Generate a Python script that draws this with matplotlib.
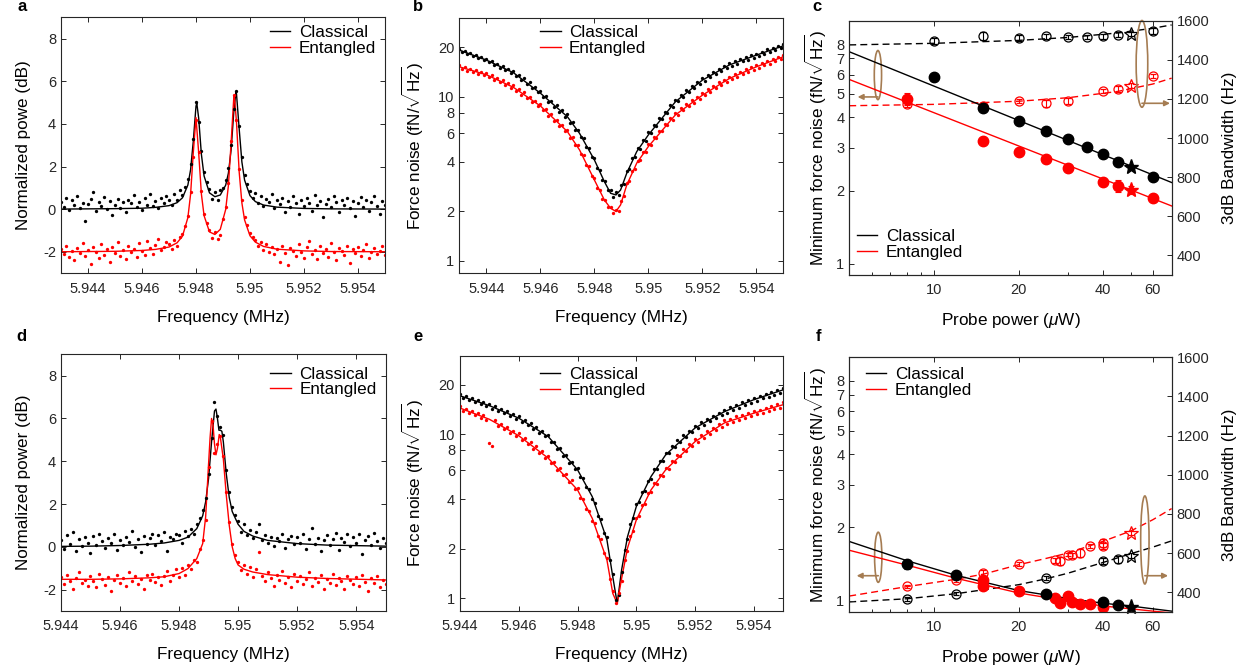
import numpy as np
import matplotlib
matplotlib.use('Agg')
import matplotlib.pyplot as plt
from matplotlib.patches import Ellipse
from matplotlib.ticker import FixedLocator, NullFormatter, NullLocator, LogLocator

plt.rcParams['font.family'] = ['Liberation Sans', 'DejaVu Sans']
plt.rcParams['mathtext.fontset'] = 'custom'
plt.rcParams['mathtext.rm'] = 'Liberation Sans'
plt.rcParams['mathtext.it'] = 'Liberation Sans:italic'
plt.rcParams['mathtext.bf'] = 'Liberation Sans:bold'

GRAY = '#262626'
BROWN = '#a57c52'

# ---------------- panel a : power spectra (two peaks) ----------------
a_line_f_cls = [5.943, 5.944, 5.945, 5.946, 5.9465, 5.947, 5.9473, 5.9475, 5.9477, 5.9478, 5.9479,
                5.948, 5.94803, 5.9481, 5.9482, 5.9483, 5.9485, 5.9487, 5.9489, 5.9491, 5.9492,
                5.9493, 5.9494, 5.94948, 5.9495, 5.9496, 5.9497, 5.9498, 5.95, 5.9502, 5.9505,
                5.951, 5.952, 5.953, 5.955]
a_line_cls = [0.01, 0.02, 0.03, 0.05, 0.09, 0.17, 0.31, 0.54, 1.14, 1.85, 3.18, 4.83, 4.98, 4.27,
              2.58, 1.56, 0.77, 0.59, 0.67, 1.13, 1.69, 2.77, 4.56, 5.50, 5.42, 3.77, 2.22, 1.37,
              0.64, 0.36, 0.20, 0.10, 0.04, 0.02, 0.01]
a_line_f_ent = [5.943, 5.944, 5.945, 5.946, 5.9465, 5.947, 5.9473, 5.9475, 5.9477, 5.9478, 5.9479,
                5.948, 5.9481, 5.9482, 5.9483, 5.9485, 5.9487, 5.9489, 5.9491, 5.9492, 5.9493,
                5.9494, 5.94942, 5.9495, 5.9496, 5.9497, 5.9498, 5.95, 5.9502, 5.9505, 5.951,
                5.952, 5.953, 5.955]
a_line_ent = [-1.99, -1.98, -1.97, -1.93, -1.88, -1.77, -1.57, -1.26, -0.39, 0.70, 2.65, 4.30,
              2.65, 0.72, -0.30, -1.06, -1.18, -0.94, -0.01, 1.10, 3.09, 5.24, 5.34, 4.09, 1.75,
              0.30, -0.50, -1.24, -1.54, -1.74, -1.87, -1.95, -1.98, -1.99]
a_pts_cls = [0.35, 0.12, 0.55, -0.05, 0.42, 0.18, 0.62, 0.05, 0.30, -0.55,
             0.25, 0.48, 0.80, -0.10, 0.32, 0.15, 0.58, 0.02, 0.40, -0.25,
             0.22, 0.50, 0.08, 0.36, -0.15, 0.45, 0.28, 0.65, 0.10, 0.33,
             -0.05, 0.52, 0.20, 0.70, 0.15, 0.38, 0.05, 0.55, 0.30, 0.60,
             0.45, 0.20, 0.70, 0.42, 0.90, 0.65, 1.05, 1.40, 2.10, 3.30,
             5.05, 4.10, 2.75, 1.75, 1.30, 0.95, 0.50, 0.80, 0.45, 0.90,
             1.00, 1.35, 1.95, 3.00, 4.70, 5.55, 3.90, 2.45, 1.60, 1.20,
             0.85, 0.55, 0.75, 0.30, 0.62, 0.15, 0.50, 0.35, 0.70, 0.05,
             0.42, 0.25, 0.55, -0.12, 0.38, 0.10, 0.60, 0.28, -0.20, 0.45,
             0.15, 0.52, 0.30, -0.08, 0.68, 0.20, 0.40, -0.35, 0.25, 0.50,
             0.10, 0.62, 0.32, -0.15, 0.45, 0.18, 0.55, 0.05, 0.38, -0.30,
             0.28, 0.58, 0.12, 0.42, -0.10, 0.35, 0.60, 0.15, -0.20, 0.40, 0.22]
a_pts_ent = [-1.85, -2.10, -1.70, -2.25, -1.95, -2.40, -1.80, -2.05, -1.60, -2.20,
             -1.90, -2.55, -1.75, -2.00, -2.30, -1.65, -2.15, -1.88, -2.45, -1.78,
             -2.05, -1.55, -2.20, -1.92, -2.35, -1.70, -2.02, -1.85, -2.25, -1.60,
             -1.95, -2.15, -1.50, -1.82, -2.10, -1.68, -1.40, -1.90, -1.75, -1.55,
             -1.62, -1.85, -1.45, -1.70, -1.30, -1.15, -0.80, -0.30, 0.80, 2.45,
             4.20, 2.70, 0.85, -0.20, -0.65, -0.95, -1.35, -1.05, -1.40, -1.20,
             -0.45, 0.10, 1.25, 3.20, 5.35, 4.20, 1.90, 0.45, -0.35, -0.75,
             -1.10, -1.30, -1.45, -1.70, -1.55, -1.90, -1.65, -2.00, -1.75, -2.10,
             -1.85, -2.45, -1.70, -2.05, -2.60, -1.80, -1.95, -2.20, -1.65, -2.00,
             -2.30, -1.75, -1.50, -2.10, -1.90, -2.35, -1.70, -2.05, -1.85, -2.25,
             -1.60, -2.00, -2.40, -1.80, -1.95, -2.15, -1.72, -2.50, -1.88, -2.05,
             -1.75, -2.20, -1.90, -1.65, -2.30, -2.00, -1.80, -2.10, -1.95, -1.70, -2.15]

# ---------------- panel b : force noise spectra ----------------
b_line_f = [5.943, 5.944, 5.945, 5.946, 5.947, 5.94745, 5.948, 5.94837, 5.9486, 5.9488, 5.94897,
            5.9492, 5.94957, 5.95, 5.951, 5.952, 5.953, 5.954, 5.955]
b_line_cls = [19.2, 16.7, 14.0, 10.5, 7.55, 5.98, 4.12, 3.04, 2.58, 2.52, 2.7, 3.42, 4.63, 5.85,
              9.3, 12.6, 15.6, 17.9, 20.4]
b_line_ent = [15.2, 13.6, 11.4, 8.78, 6.13, 4.74, 3.11, 2.35, 2.09, 2.0, 2.19, 2.90, 3.94, 4.97,
              7.74, 10.2, 12.9, 15.2, 17.5]
b_pts_cls = [19.6, 18.7, 19.0, 18.1, 18.5, 17.6, 18.0, 17.2, 17.5, 16.6,
             17.0, 16.2, 16.5, 15.6, 15.9, 15.0, 15.4, 14.6, 14.8, 14.0,
             14.3, 13.4, 13.6, 12.6, 12.9, 12.0, 12.2, 11.3, 11.5, 10.6,
             10.8, 9.9, 10.1, 9.25, 9.45, 8.65, 8.85, 8.1, 8.25, 7.55,
             7.8, 6.95, 7.0, 6.3, 6.3, 5.7, 5.6, 4.95, 4.88, 4.3,
             4.25, 3.7, 3.6, 3.12, 3.08, 2.7, 2.7, 2.45, 2.62, 2.52,
             2.88, 2.95, 3.52, 3.65, 4.22, 4.28, 4.85, 4.82, 5.42, 5.38,
             6.05, 5.97, 6.7, 6.65, 7.42, 7.28, 8.1, 7.95, 8.85, 8.7,
             9.6, 9.4, 10.3, 10.0, 10.9, 10.7, 11.6, 11.3, 12.2, 12.0,
             12.9, 12.5, 13.5, 13.1, 14.1, 13.7, 14.8, 14.3, 15.4, 14.9,
             16.0, 15.4, 16.5, 15.9, 16.9, 16.4, 17.4, 16.8, 17.9, 17.3,
             18.3, 17.8, 18.8, 18.3, 19.4, 18.8, 19.9, 19.3, 20.4, 19.8, 20.8]
b_pts_ent = [15.5, 14.8, 15.2, 14.4, 14.8, 14.1, 14.5, 13.8, 14.2, 13.5,
             13.9, 13.1, 13.5, 12.6, 13.0, 12.2, 12.6, 11.7, 12.1, 11.3,
             11.7, 10.8, 11.1, 10.2, 10.6, 9.75, 9.95, 9.25, 9.45, 8.75,
             9.0, 8.25, 8.4, 7.65, 7.8, 7.1, 7.25, 6.6, 6.75, 6.15,
             6.3, 5.6, 5.65, 5.05, 5.05, 4.48, 4.42, 3.85, 3.78, 3.28,
             3.2, 2.78, 2.7, 2.37, 2.36, 2.12, 2.14, 1.97, 2.05, 2.02,
             2.32, 2.48, 2.98, 3.06, 3.55, 3.62, 4.08, 4.1, 4.6, 4.58,
             5.12, 5.07, 5.65, 5.6, 6.22, 6.14, 6.78, 6.68, 7.37, 7.22,
             7.95, 7.78, 8.48, 8.25, 9.0, 8.72, 9.48, 9.2, 10.0, 9.68,
             10.5, 10.2, 11.1, 10.7, 11.6, 11.3, 12.2, 11.8, 12.7, 12.3,
             13.2, 12.8, 13.7, 13.2, 14.2, 13.7, 14.7, 14.1, 15.2, 14.6,
             15.6, 15.0, 16.1, 15.5, 16.5, 15.9, 17.0, 16.4, 17.4, 16.9, 17.9]

# ---------------- panel d : power spectra (single peak) ----------------
d_line_f_cls = [5.944, 5.945, 5.946, 5.947, 5.9475, 5.948, 5.9483, 5.9486, 5.9488, 5.9489, 5.949,
                5.9491, 5.9492, 5.94925, 5.9493, 5.94935, 5.9494, 5.94945, 5.9495, 5.9496, 5.9497,
                5.9498, 5.95, 5.9502, 5.9505, 5.951, 5.952, 5.953, 5.955]
d_line_cls = [0.02, 0.03, 0.06, 0.12, 0.18, 0.30, 0.45, 0.85, 1.45, 2.1, 3.2, 4.9, 6.35, 6.44, 6.0,
              5.45, 5.45, 5.4, 4.9, 3.4, 2.3, 1.65, 1.05, 0.72, 0.5, 0.3, 0.15, 0.08, 0.03]
d_line_f_ent = [5.944, 5.945, 5.946, 5.947, 5.9475, 5.948, 5.9483, 5.9486, 5.9488, 5.9489, 5.949,
                5.94905, 5.9491, 5.94915, 5.9492, 5.94925, 5.9493, 5.94936, 5.9494, 5.9495, 5.9496,
                5.9497, 5.9498, 5.9499, 5.95, 5.9502, 5.9505, 5.951, 5.952, 5.953, 5.955]
d_line_ent = [-1.52, -1.52, -1.50, -1.45, -1.40, -1.25, -1.02, -0.55, 0.15, 1.4, 3.9, 5.1, 6.0, 5.7,
              4.8, 4.3, 4.6, 5.25, 5.1, 4.1, 2.4, 1.0, 0.0, -0.55, -0.85, -1.05, -1.18, -1.3,
              -1.42, -1.48, -1.55]
d_pts_cls = [0.30, -0.10, 0.55, 0.15, 0.70, -0.20, 0.35, 0.05, 0.45, 0.20,
             -0.30, 0.50, 0.10, 0.62, 0.25, -0.05, 0.40, 0.18, 0.58, -0.15,
             0.32, 0.08, 0.48, 0.22, 0.75, 0.00, 0.38, -0.25, 0.52, 0.15,
             0.42, 0.60, 0.10, 0.55, 0.28, 0.70, -0.20, 0.48, 0.35, 0.62,
             0.55, 0.20, 0.72, 0.50, 0.85, 0.60, 1.05, 1.35, 1.70, 2.30,
             3.40, 5.10, 6.75, 6.10, 5.60, 5.25, 3.60, 2.55, 1.85, 1.50,
             1.20, 0.70, 1.05, 0.55, 0.80, 0.40, 0.70, 1.05, 0.30, 0.55,
             0.20, 0.48, 0.05, 0.40, 0.25, 0.58, -0.05, 0.35, 0.50, 0.12,
             0.45, 0.20, 0.62, -0.10, 0.38, 0.90, 0.15, 0.42, -0.20, 0.30,
             0.55, 0.08, 0.35, 0.65, -0.15, 0.40, 0.22, 0.58, 0.02, 0.45,
             0.18, 0.60, -0.35, 0.30, 0.50, 0.10, 0.65, 0.25, -0.05, 0.40, 0.20]
d_pts_ent = [-1.40, -1.75, -1.30, -1.60, -1.95, -1.45, -1.20, -1.70, -1.55, -1.85,
             -1.35, -1.62, -1.90, -1.25, -1.50, -1.78, -1.40, -2.05, -1.55, -1.30,
             -1.68, -1.45, -1.85, -1.20, -1.58, -1.38, -1.72, -1.50, -1.95, -1.32,
             -1.55, -1.25, -1.65, -1.40, -1.80, -1.35, -1.15, -1.60, -1.30, -1.05,
             -1.40, -1.00, -1.30, -0.85, -1.05, -0.60, -0.70, -0.10, 0.30, 1.25,
             3.75, 5.90, 4.40, 4.80, 5.20, 4.25, 2.55, 1.15, 0.15, -0.40,
             -0.70, -1.10, -0.85, -1.25, -0.95, -1.40, -1.05, -0.25, -1.35, -1.60,
             -1.20, -1.45, -1.85, -1.30, -1.55, -1.15, -1.70, -1.40, -1.90, -1.25,
             -1.60, -1.35, -1.75, -1.50, -1.20, -1.85, -1.45, -1.65, -1.30, -1.95,
             -1.50, -1.70, -1.25, -1.80, -1.45, -1.60, -1.95, -1.35, -1.55, -1.75,
             -1.40, -1.85, -1.30, -1.65, -2.05, -1.45, -1.70, -1.35, -1.90, -1.55, -1.75]

# ---------------- panel e : force noise spectra ----------------
e_line_f = [5.944, 5.945, 5.946, 5.947, 5.948, 5.9485, 5.949, 5.9492, 5.94935, 5.9495, 5.9497,
            5.95, 5.9505, 5.951, 5.952, 5.953, 5.954, 5.955]
e_line_cls = [17.1, 14.9, 12.5, 9.66, 6.06, 4.16, 2.27, 1.35, 0.93, 1.49, 2.37, 3.62, 5.51, 7.48,
              10.9, 13.7, 16.2, 18.6]
e_line_ent = [14.4, 12.3, 9.77, 7.14, 4.57, 3.07, 1.71, 1.07, 0.93, 1.32, 2.02, 3.0, 4.57, 6.06,
              9.0, 11.7, 13.4, 15.1]
e_pts_cls = [17.5, 16.6, 17.0, 16.1, 16.6, 15.7, 16.1, 15.2, 15.7, 14.8,
             15.2, 14.3, 14.8, 13.8, 14.2, 13.4, 13.8, 12.9, 13.2, 12.4,
             12.8, 11.9, 12.2, 11.3, 11.6, 10.7, 11.1, 10.2, 10.5, 9.7,
             9.9, 8.95, 9.0, 8.1, 8.2, 7.4, 7.45, 6.7, 6.75, 6.12,
             6.25, 5.5, 5.4, 4.75, 4.65, 4.05, 3.82, 3.18, 3.02, 2.5,
             2.35, 1.7, 1.4, 0.98, 1.05, 1.45, 1.98, 2.3, 2.85, 3.1,
             3.75, 3.85, 4.45, 4.52, 5.2, 5.35, 6.1, 6.12, 6.9, 6.9,
             7.7, 7.62, 8.45, 8.3, 9.15, 9.0, 9.85, 9.6, 10.5, 10.3,
             11.2, 10.9, 11.8, 11.4, 12.3, 12.0, 12.9, 12.5, 13.5, 13.0,
             14.1, 13.5, 14.6, 14.0, 15.1, 14.5, 15.6, 15.0, 16.1, 15.5,
             16.6, 16.0, 17.1, 16.5, 17.6, 16.9, 18.1, 17.4, 18.6, 17.9, 19.1]
e_pts_ent = [14.8, 13.9, 14.3, 13.5, 13.9, 13.1, 13.4, 12.6, 13.0, 12.2,
             8.8, 8.4, 12.1, 11.2, 11.5, 10.7, 11.0, 10.2, 10.5, 9.7,
             10.1, 9.2, 9.5, 8.7, 8.95, 8.15, 8.4, 7.65, 7.9, 7.15,
             7.35, 6.62, 6.8, 6.08, 6.25, 5.6, 5.72, 5.12, 5.22, 4.65,
             4.72, 4.08, 4.02, 3.48, 3.42, 2.96, 2.86, 2.41, 2.3, 1.89,
             1.76, 1.31, 1.1, 0.93, 1.08, 1.27, 1.7, 1.95, 2.4, 2.56,
             3.1, 3.18, 3.72, 3.77, 4.36, 4.42, 5.0, 4.98, 5.62, 5.56,
             6.25, 6.14, 6.86, 6.72, 7.48, 7.3, 8.1, 7.88, 8.7, 8.42,
             9.28, 8.96, 9.85, 9.5, 10.4, 10.0, 10.95, 10.55, 11.55, 11.05,
             12.1, 11.5, 12.4, 11.8, 12.8, 12.1, 13.1, 12.5, 13.4, 12.8,
             13.8, 13.2, 14.1, 13.5, 14.5, 13.8, 14.8, 14.2, 15.2, 14.5, 15.6]

# ---------------- panel c : min force noise and bandwidth vs power ----------------
c_p_cls = [10, 15, 20, 25, 30, 35, 40, 45, 60]
c_noise_cls = [5.85, 4.37, 3.86, 3.53, 3.25, 3.01, 2.84, 2.63, 2.28]
c_noise_cls_err = [0.12, 0.08, 0.05, 0.05, 0.05, 0.04, 0.04, 0.04, 0.04]
c_p_ent = [8, 15, 20, 25, 30, 40, 45, 60]
c_noise_ent = [4.77, 3.19, 2.89, 2.71, 2.48, 2.18, 2.09, 1.86]
c_noise_ent_err = [0.25, 0.05, 0.05, 0.05, 0.05, 0.05, 0.12, 0.07]
c_star_p = 50
c_star_noise = [2.51, 2.01]
c_star_bw = [1532, 1268]
c_bw_cls = [1498, 1520, 1513, 1520, 1515, 1517, 1520, 1528, 1546]
c_bw_cls_err = [15, 20, 15, 12, 10, 12, 12, 12, 15]
c_bw_ent = [1175, 1165, 1190, 1178, 1191, 1240, 1249, 1317]
c_bw_ent_err = [15, 15, 12, 18, 15, 10, 15, 12]
c_fit_p = [5, 70]
c_fit_cls = [7.45, 2.16]
c_fit_ent = [5.73, 1.73]
c_bwfit_p = [5, 10, 20, 30, 45, 60, 70]
c_bwfit_cls = [1476, 1484, 1499, 1514, 1537, 1561, 1578]
c_bwfit_ent = [1165, 1172, 1188, 1206, 1238, 1276, 1306]

# ---------------- panel f ----------------
f_p_cls = [8, 12, 25, 40, 45]
f_noise_cls = [1.41, 1.27, 1.06, 0.99, 0.96]
f_noise_cls_err = [0.06, 0.04, 0.02, 0.02, 0.02]
f_p_ent = [15, 15, 20, 27, 28, 30, 31, 33, 36, 40]
f_noise_ent = [1.22, 1.15, 1.09, 1.02, 0.98, 1.04, 0.99, 0.97, 0.965, 0.94]
f_noise_ent_err = [0.04, 0.03, 0.03, 0.02, 0.02, 0.02, 0.02, 0.02, 0.02, 0.02]
f_star_p = 50
f_star_noise = 0.945
f_star_bw = [587, 703]
f_bw_p_cls = [8, 12, 25, 40, 45]
f_bw_cls = [366, 392, 472, 558, 567]
f_bw_cls_err = [10, 8, 10, 15, 18]
f_bw_p_ent = [8, 12, 15, 20, 27, 28, 30, 31, 33, 36, 40, 40]
f_bw_ent = [431, 461, 499, 545, 562, 558, 592, 589, 601, 638, 652, 635]
f_bw_ent_err = [8, 8, 15, 10, 15, 20, 8, 12, 20, 10, 20, 15]
f_fit_p = [5, 8, 12, 20, 30, 40, 50, 60, 70]
f_fit_cls = [1.75, 1.46, 1.27, 1.10, 1.02, 0.975, 0.95, 0.925, 0.905]
f_fit_ent = [1.61, 1.40, 1.235, 1.075, 0.995, 0.95, 0.925, 0.905, 0.89]
f_bwfit_p_cls = [5, 8, 12, 20, 25, 30, 40, 50, 60, 70]
f_bwfit_cls = [350, 366, 392, 438, 468, 497, 552, 596, 630, 662]
f_bwfit_p_ent = [5, 8, 12, 15, 20, 25, 30, 40, 50, 60, 70]
f_bwfit_ent = [380, 428, 466, 492, 540, 572, 600, 660, 712, 770, 827]

freq_abc = 5.943 + 0.0001 * np.arange(len(a_pts_cls))
freq_de = 5.944 + 0.0001 * np.arange(len(d_pts_cls))

freq_ticks = [5.944, 5.946, 5.948, 5.95, 5.952, 5.954]
freq_labels = ['5.944', '5.946', '5.948', '5.95', '5.952', '5.954']

fig = plt.figure(figsize=(12.52, 6.70), dpi=100)


def style(ax):
    ax.tick_params(which='both', direction='in', colors=GRAY, labelsize=10.5, width=0.7)
    ax.tick_params(which='major', length=3.5)
    ax.tick_params(which='minor', length=2)
    for s in ax.spines.values():
        s.set_color(GRAY)
        s.set_linewidth(0.8)


def add_legend(ax, x, y):
    ax.legend(['Classical', 'Entangled'], loc='upper left', bbox_to_anchor=(x, y), frameon=False,
              fontsize=12.3, handlelength=1.2, handletextpad=0.5, labelspacing=0.05,
              borderpad=0, borderaxespad=0)


def spectrum_panel(rect, xlim, ylim, log, fl_c, yl_c, fl_e, yl_e, fp, yp_c, yp_e, ylabel, leg):
    ax = fig.add_axes(rect)
    ax.plot(fl_c, yl_c, color='k', lw=1.0)
    ax.plot(fl_e, yl_e, color='red', lw=1.0)
    ax.plot(fp, yp_c, 'o', ms=2.4, color='k', mec='none')
    ax.plot(fp, yp_e, 'o', ms=2.4, color='red', mec='none')
    if log:
        ax.set_yscale('log')
        ax.yaxis.set_major_locator(FixedLocator([1, 2, 4, 6, 8, 10, 20]))
        ax.yaxis.set_minor_locator(NullLocator())
        ax.set_yticklabels(['1', '2', '4', '6', '8', '10', '20'])
    else:
        ax.set_yticks([-2, 0, 2, 4, 6, 8])
        ax.set_yticklabels(['-2', '0', '2', '4', '6', '8'])
    ax.set_xlim(*xlim)
    ax.set_ylim(*ylim)
    ax.set_xticks(freq_ticks)
    ax.set_xticklabels(freq_labels)
    ax.tick_params(top=True, right=True)
    style(ax)
    ax.tick_params(axis='x', pad=6)
    ax.set_xlabel('Frequency (MHz)', fontsize=12.3, labelpad=10)
    ax.set_ylabel(ylabel, fontsize=12.3, labelpad=9)
    add_legend(ax, *leg)
    return ax


force_lbl = r'Force noise (fN/$\sqrt{\mathrm{Hz}}$)'

spectrum_panel([0.0487, 0.5921, 0.2588, 0.3821], (5.943, 5.955), (-3, 9), False,
               a_line_f_cls, a_line_cls, a_line_f_ent, a_line_ent,
               freq_abc, a_pts_cls, a_pts_ent, 'Normalized powe (dB)', (0.645, 0.97))
spectrum_panel([0.3669, 0.5921, 0.2588, 0.3806], (5.943, 5.955), (0.84, 30), True,
               b_line_f, b_line_cls, b_line_f, b_line_ent,
               freq_abc, b_pts_cls, b_pts_ent, force_lbl, (0.249, 0.974))
spectrum_panel([0.0487, 0.0881, 0.2594, 0.3831], (5.944, 5.955), (-3, 9), False,
               d_line_f_cls, d_line_cls, d_line_f_ent, d_line_ent,
               freq_de, d_pts_cls, d_pts_ent, 'Normalized power (dB)', (0.644, 0.952))
spectrum_panel([0.3674, 0.0885, 0.2582, 0.3806], (5.944, 5.955), (0.84, 30), True,
               e_line_f, e_line_cls, e_line_f, e_line_ent,
               freq_de, e_pts_cls, e_pts_ent, force_lbl, (0.247, 0.957))


def power_panel(rect):
    ax1 = fig.add_axes(rect)
    ax2 = ax1.twinx()
    ax1.set_zorder(ax2.get_zorder() + 1)
    ax1.patch.set_visible(False)
    ax1.set_xscale('log')
    ax1.set_yscale('log')
    ax1.set_xlim(5, 70)
    ax1.set_ylim(0.9, 10)
    ax2.set_ylim(300, 1600)
    ax1.xaxis.set_major_locator(FixedLocator([10, 20, 40, 60]))
    ax1.set_xticklabels(['10', '20', '40', '60'])
    ax1.xaxis.set_minor_locator(LogLocator(base=10, subs=np.arange(2, 10)))
    ax1.xaxis.set_minor_formatter(NullFormatter())
    ax1.yaxis.set_major_locator(FixedLocator([1, 2, 3, 4, 5, 6, 7, 8]))
    ax1.yaxis.set_minor_locator(NullLocator())
    ax1.set_yticklabels(['1', '2', '3', '4', '5', '6', '7', '8'])
    ax2.set_yticks([400, 600, 800, 1000, 1200, 1400, 1600])
    ax1.tick_params(top=True, right=False)
    style(ax1)
    style(ax2)
    ax1.tick_params(axis='x', pad=6)
    ax1.set_xlabel(r'Probe power ($\mu$W)', fontsize=12.3, labelpad=10)
    ax1.set_ylabel(r'Minimum force noise (fN/$\sqrt{\mathrm{Hz}}$)', fontsize=12.3, labelpad=5)
    ax2.set_ylabel('3dB Bandwidth (Hz)', fontsize=12.3, labelpad=9)
    return ax1, ax2


def ring(ax, cx, cy, w, h, x_to, y_arrow):
    ax.add_patch(Ellipse((cx, cy), w, h, transform=ax.transAxes, fill=False,
                         ec=BROWN, lw=1.2, clip_on=False))
    ax.annotate('', xy=(x_to, y_arrow), xytext=(cx, y_arrow), xycoords='axes fraction',
                arrowprops=dict(arrowstyle='-|>', color=BROWN, lw=1.2, mutation_scale=8,
                                shrinkA=0, shrinkB=0))


eb = dict(capsize=2, elinewidth=0.8, capthick=0.8, lw=0)

# panel c
c1, c2 = power_panel([0.6783, 0.5896, 0.2575, 0.3796])
c1.plot(c_fit_p, c_fit_cls, color='k', lw=1.0)
c1.plot(c_fit_p, c_fit_ent, color='red', lw=1.0)
c2.plot(c_bwfit_p, c_bwfit_cls, '--', color='k', lw=1.0, dashes=(5, 3))
c2.plot(c_bwfit_p, c_bwfit_ent, '--', color='red', lw=1.0, dashes=(5, 3))
c2.errorbar(c_p_cls, c_bw_cls, yerr=c_bw_cls_err, fmt='o', ms=6.5, mfc='none', mec='k',
            ecolor='k', mew=0.9, **eb)
c2.errorbar(c_p_ent, c_bw_ent, yerr=c_bw_ent_err, fmt='o', ms=6.5, mfc='none', mec='red',
            ecolor='red', mew=0.9, **eb)
c2.errorbar([c_star_p], [c_star_bw[0]], yerr=[12], fmt='*', ms=10, mfc='none', mec='k',
            ecolor='k', mew=0.9, **eb)
c2.errorbar([c_star_p], [c_star_bw[1]], yerr=[12], fmt='*', ms=10, mfc='none', mec='red',
            ecolor='red', mew=0.9, **eb)
c1.errorbar(c_p_cls, c_noise_cls, yerr=c_noise_cls_err, fmt='o', ms=7.5, color='k', **eb)
c1.errorbar(c_p_ent, c_noise_ent, yerr=c_noise_ent_err, fmt='o', ms=7.5, color='red', **eb)
c1.plot([c_star_p], [c_star_noise[0]], '*', ms=11, color='k')
c1.errorbar([c_star_p], [c_star_noise[1]], yerr=[0.08], fmt='*', ms=11, color='red', **eb)
add_legend(c1, 0.023, 0.18)
ring(c1, 0.089, 0.786, 0.0226, 0.193, 0.026, 0.70)
ring(c1, 0.908, 0.830, 0.036, 0.341, 0.995, 0.675)

# panel f
f1, f2 = power_panel([0.6783, 0.0870, 0.2575, 0.3797])
f1.plot(f_fit_p, f_fit_cls, color='k', lw=1.0)
f1.plot(f_fit_p, f_fit_ent, color='red', lw=1.0)
f2.plot(f_bwfit_p_cls, f_bwfit_cls, '--', color='k', lw=1.0, dashes=(5, 3))
f2.plot(f_bwfit_p_ent, f_bwfit_ent, '--', color='red', lw=1.0, dashes=(5, 3))
f2.errorbar(f_bw_p_cls, f_bw_cls, yerr=f_bw_cls_err, fmt='o', ms=6.5, mfc='none', mec='k',
            ecolor='k', mew=0.9, **eb)
f2.errorbar(f_bw_p_ent, f_bw_ent, yerr=f_bw_ent_err, fmt='o', ms=6.5, mfc='none', mec='red',
            ecolor='red', mew=0.9, **eb)
f2.errorbar([f_star_p], [f_star_bw[0]], yerr=[15], fmt='*', ms=10, mfc='none', mec='k',
            ecolor='k', mew=0.9, **eb)
f2.errorbar([f_star_p], [f_star_bw[1]], yerr=[10], fmt='*', ms=10, mfc='none', mec='red',
            ecolor='red', mew=0.9, **eb)
f1.errorbar(f_p_ent, f_noise_ent, yerr=f_noise_ent_err, fmt='o', ms=7.5, color='red', **eb)
f1.errorbar(f_p_cls, f_noise_cls, yerr=f_noise_cls_err, fmt='o', ms=7.5, color='k', **eb)
f1.plot([f_star_p], [f_star_noise], '*', ms=11, color='k', clip_on=False)
add_legend(f1, 0.051, 0.963)
ring(f1, 0.090, 0.214, 0.0226, 0.197, 0.023, 0.1415)
ring(f1, 0.917, 0.282, 0.026, 0.346, 0.989, 0.1415)

# panel letters
for letter, x, y in [('a', 17, 11), ('b', 413, 11), ('c', 812, 11),
                     ('d', 16, 341), ('e', 413, 341), ('f', 816, 341)]:
    fig.text(x / 1252, 1 - y / 670, letter, fontsize=12, fontweight='bold', va='baseline')

fig.savefig('out.png', dpi=100)
